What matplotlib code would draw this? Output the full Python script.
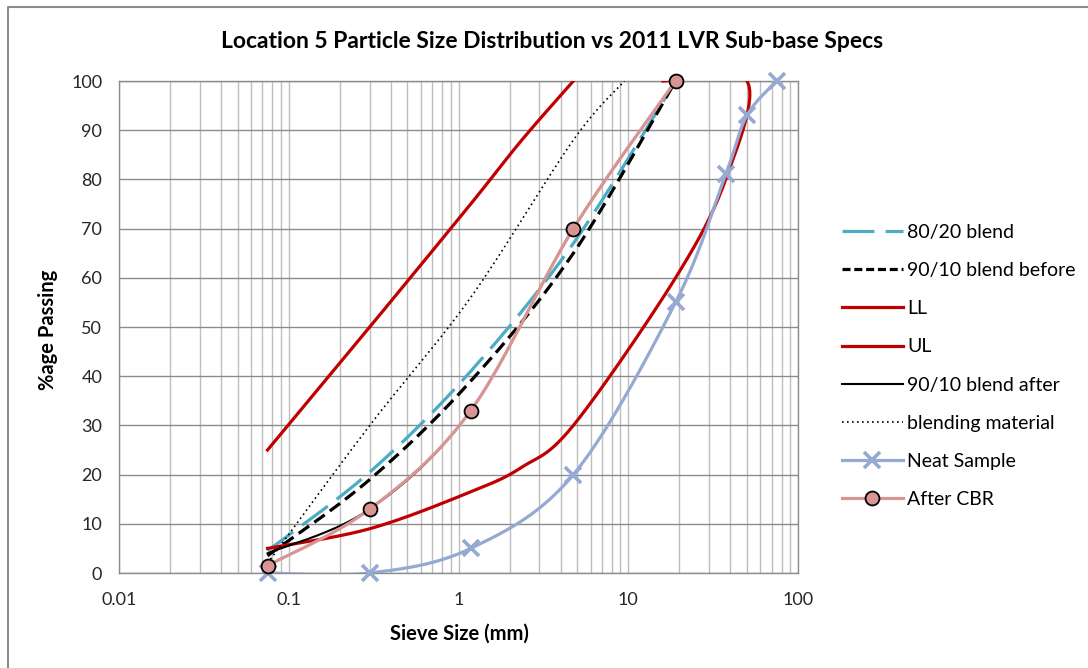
import numpy as np
import matplotlib
matplotlib.use('Agg')
from matplotlib import pyplot as plt
from matplotlib.lines import Line2D

plt.rcParams['font.family'] = ['Lato', 'DejaVu Sans']

# sieve sizes (mm) and % passing
sieve = [0.075, 0.3, 1.18, 4.75, 19]
blend_80_20 = [4.5, 20.5, 41, 67, 100]
blend_90_10_before = [3.5, 19, 39, 65, 100]
ll_x = [0.075, 0.3, 1.18, 2.36, 4.75, 19, 37.5, 50, 16]
ll_y = [5, 9, 16.5, 21.5, 30, 60, 80, 100, 100]
ul_x = [0.075, 0.3, 1.18, 2.36, 4.75]
ul_y = [25, 50, 75, 88, 100]
blend_90_10_after = [4, 13, 33, 70, 100]
blend_mat_x = [0.075, 0.3, 1.18, 4.75, 9.5]
blend_mat_y = [2, 30, 56, 88, 100]
neat_x = [0.075, 0.3, 1.18, 4.75, 19, 37.5, 50, 75]
neat_y = [0, 0, 5, 20, 55, 81, 93, 100]
after_cbr = [1.5, 13, 33, 70, 100]


def smooth(xs, ys, n=40):
    # Excel style smoothed line, worked out in log-x / y screen-ish units
    P = np.column_stack([np.log10(xs) * 170, np.asarray(ys, float) * 4.92])
    out = []
    for i in range(len(P) - 1):
        p0, p1 = P[max(i - 1, 0)], P[i]
        p2, p3 = P[i + 1], P[min(i + 2, len(P) - 1)]
        c1 = p1 + (p2 - p0) / 6
        c2 = p2 - (p3 - p1) / 6
        t = np.linspace(0, 1, n)[:, None]
        seg = (1 - t)**3 * p1 + 3 * (1 - t)**2 * t * c1 + 3 * (1 - t) * t**2 * c2 + t**3 * p2
        out.append(seg if i == 0 else seg[1:])
    out = np.vstack(out)
    return 10**(out[:, 0] / 170), out[:, 1] / 4.92


red = '#C00000'
cyan = '#4BACC6'
blue = '#95A9D2'
pink = '#D99594'

fig = plt.figure(figsize=(10.88, 6.68), dpi=100)
ax = fig.add_axes([119 / 1088, 95 / 668, 679 / 1088, 492 / 668])

ax.plot(*smooth(sieve, blend_80_20), color=cyan, lw=2.3, dashes=(10, 3.5), zorder=3)
ax.plot(*smooth(sieve, blend_90_10_before), color='black', lw=2.3, dashes=(4, 2), zorder=4)
ax.plot(*smooth(ll_x, ll_y), color=red, lw=2.3, zorder=5)
ax.plot(*smooth(ul_x, ul_y), color=red, lw=2.3, zorder=6)
ax.plot(*smooth(sieve, blend_90_10_after), color='black', lw=1.5, zorder=7)
ax.plot(*smooth(blend_mat_x, blend_mat_y), color='black', lw=1.2, ls=(0, (1, 2)), zorder=8)
ax.plot(*smooth(neat_x, neat_y), color=blue, lw=2.3, zorder=9)
ax.plot(neat_x, neat_y, ls='none', marker='x', ms=12, mew=2.6, color=blue, zorder=10, clip_on=False)
ax.plot(*smooth(sieve, after_cbr), color=pink, lw=2.3, zorder=11)
ax.plot(sieve, after_cbr, ls='none', marker='o', ms=10, mfc=pink, mec='black', mew=1.3,
        zorder=12, clip_on=False)

ax.set_xscale('log')
ax.set_xlim(0.01, 100)
ax.set_ylim(0, 100)
ax.set_yticks(np.arange(0, 101, 10))
ax.set_xticks([0.01, 0.1, 1, 10, 100])
ax.set_xticklabels(['0.01', '0.1', '1', '10', '100'])
ax.tick_params(which='both', length=0, labelsize=13, colors='#262626')
ax.tick_params(axis='y', pad=12)
ax.tick_params(axis='x', pad=14)
ax.grid(True, which='major', axis='y', color='#8C8C8C', lw=1)
ax.grid(True, which='both', axis='x', color='#BEBEBE', lw=1)
for s in ax.spines.values():
    s.set_color('#8C8C8C')
    s.set_linewidth(1)

fig.text(552 / 1088, 1 - 42 / 668, 'Location 5 Particle Size Distribution vs 2011 LVR Sub-base Specs',
         fontsize=16.5, fontweight='bold', ha='center', va='center')
fig.text(48 / 1088, 1 - 330 / 668, '%age Passing', fontsize=14.5, fontweight='bold',
         rotation=90, ha='center', va='center')
fig.text(459 / 1088, 1 - 634 / 668, 'Sieve Size (mm)', fontsize=14.5, fontweight='bold',
         ha='center', va='center')

handles = [
    Line2D([], [], color=cyan, lw=2.3, dashes=(10, 3.5)),
    Line2D([], [], color='black', lw=2.3, dashes=(2.5, 1.2)),
    Line2D([], [], color=red, lw=2.3),
    Line2D([], [], color=red, lw=2.3),
    Line2D([], [], color='black', lw=1.5),
    Line2D([], [], color='black', lw=1.2, ls=(0, (1, 2))),
    Line2D([], [], color=blue, lw=2.3, marker='x', ms=12, mew=2.6),
    Line2D([], [], color=pink, lw=2.3, marker='o', ms=10, mfc=pink, mec='black', mew=1.3),
]
labels = ['80/20 blend', '90/10 blend before', 'LL', 'UL', '90/10 blend after',
          'blending material', 'Neat Sample', 'After CBR']
fig.legend(handles, labels, loc='upper left', bbox_to_anchor=(834 / 1088, 1 - 216 / 668),
           frameon=False, fontsize=14, handlelength=3.15, handletextpad=0.2,
           labelspacing=1.09, numpoints=1, borderaxespad=0)

# outer chart border (left and top edges only show)
fig.add_artist(Line2D([8 / 1088, 8 / 1088, 1.01], [-0.01, 1 - 7 / 668, 1 - 7 / 668],
                      transform=fig.transFigure, color='#8C8C8C', lw=1.5))

fig.savefig('out.png', dpi=100)
